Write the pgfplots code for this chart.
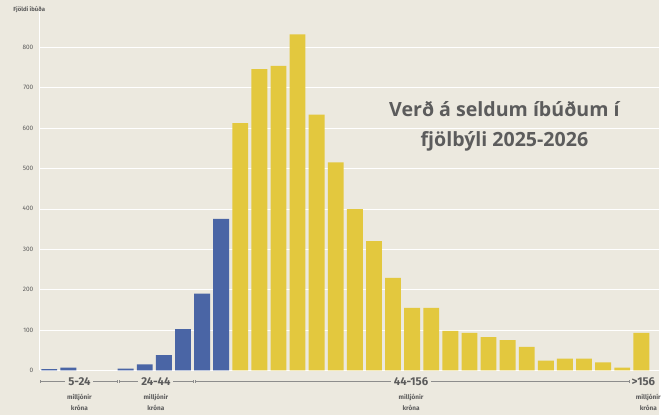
\documentclass[border=0pt]{standalone}
\usepackage{pgfplots}
\pgfplotsset{compat=1.18}
\usepackage{fontspec}
\setmainfont{Fira Sans}
\newfontfamily\titlefont{Open Sans}
\definecolor{bg}{HTML}{ECE9DF}
\definecolor{barblue}{HTML}{4A65A5}
\definecolor{baryellow}{HTML}{E3C83E}
\definecolor{txt}{HTML}{5C5C5C}

\begin{document}
\begin{tikzpicture}
\fill[bg] (0,0) rectangle (664bp,418bp);
\begin{axis}[
  at={(40bp,45bp)}, anchor=south west,
  width=624bp, height=362bp, scale only axis,
  xmin=0.5, xmax=32.94, ymin=0, ymax=890,
  axis x line*=bottom, axis y line*=left,
  axis line style={-, white, line width=1pt},
  xtick=\empty,
  ytick={0,100,...,800},
  ymajorgrids, grid style={white, line width=0.6pt},
  major tick length=0pt,
  yticklabel style={font=\fontsize{6.5}{7}\selectfont, text=txt, xshift=-3bp},
  /pgf/number format/assume math mode=true,
  ybar, bar width=16bp, bar shift=0pt,
  clip=false,
]
\addplot[fill=barblue, draw=none] coordinates {
  (1,3) (2,7) (5,4) (6,15) (7,38) (8,102) (9,190) (10,375)
};
\addplot[fill=baryellow, draw=none] coordinates {
  (11,612) (12,746) (13,754) (14,832) (15,633) (16,515) (17,399) (18,320)
  (19,229) (20,155) (21,155) (22,98) (23,93) (24,82) (25,75) (26,58)
  (27,24) (28,29) (29,29) (30,20) (31,7) (32,93)
};
\end{axis}

\node[anchor=west, text=txt, font=\fontsize{6}{7}\selectfont\bfseries] at (10bp,408bp) {Fjöldi íbúða};

\node[align=center, text=txt, font=\titlefont\fontsize{19.8}{30}\selectfont\bfseries] at (508bp,291bp)
  {Verð á seldum íbúðum í\\fjölbýli 2025-2026};

% range brackets below the axis
\begin{scope}[draw=txt!70, line width=0.5pt]
  \draw (41bp,34bp) -- (118bp,34bp);
  \draw (120bp,34bp) -- (195bp,34bp);
  \draw (197bp,34bp) -- (634bp,34bp);
  \foreach \xx in {41,118,120,195,197,634}
    \draw (\xx bp,32.5bp) -- (\xx bp,35.5bp);
\end{scope}
\tikzset{rng/.style={fill=bg, inner xsep=3bp, inner ysep=0pt, text=txt, font=\fontsize{11.5}{12}\selectfont\bfseries},
         sub/.style={text=txt, font=\fontsize{6.5}{11}\selectfont\bfseries, align=center}}
\node[rng] at (80bp,34bp) {5-24};
\node[rng] at (157bp,34bp) {24-44};
\node[rng] at (414bp,34bp) {44-156};
\node[rng, anchor=west, inner xsep=1bp] at (635bp,34bp) {>156};
\node[sub] at (80bp,13bp) {milljónir\\króna};
\node[sub] at (157bp,13bp) {milljónir\\króna};
\node[sub] at (414bp,13bp) {milljónir\\króna};
\node[sub, anchor=west] at (637bp,13bp) {milljónir\\króna};
\useasboundingbox (0,0) rectangle (664bp,418bp);
\end{tikzpicture}
\end{document}
